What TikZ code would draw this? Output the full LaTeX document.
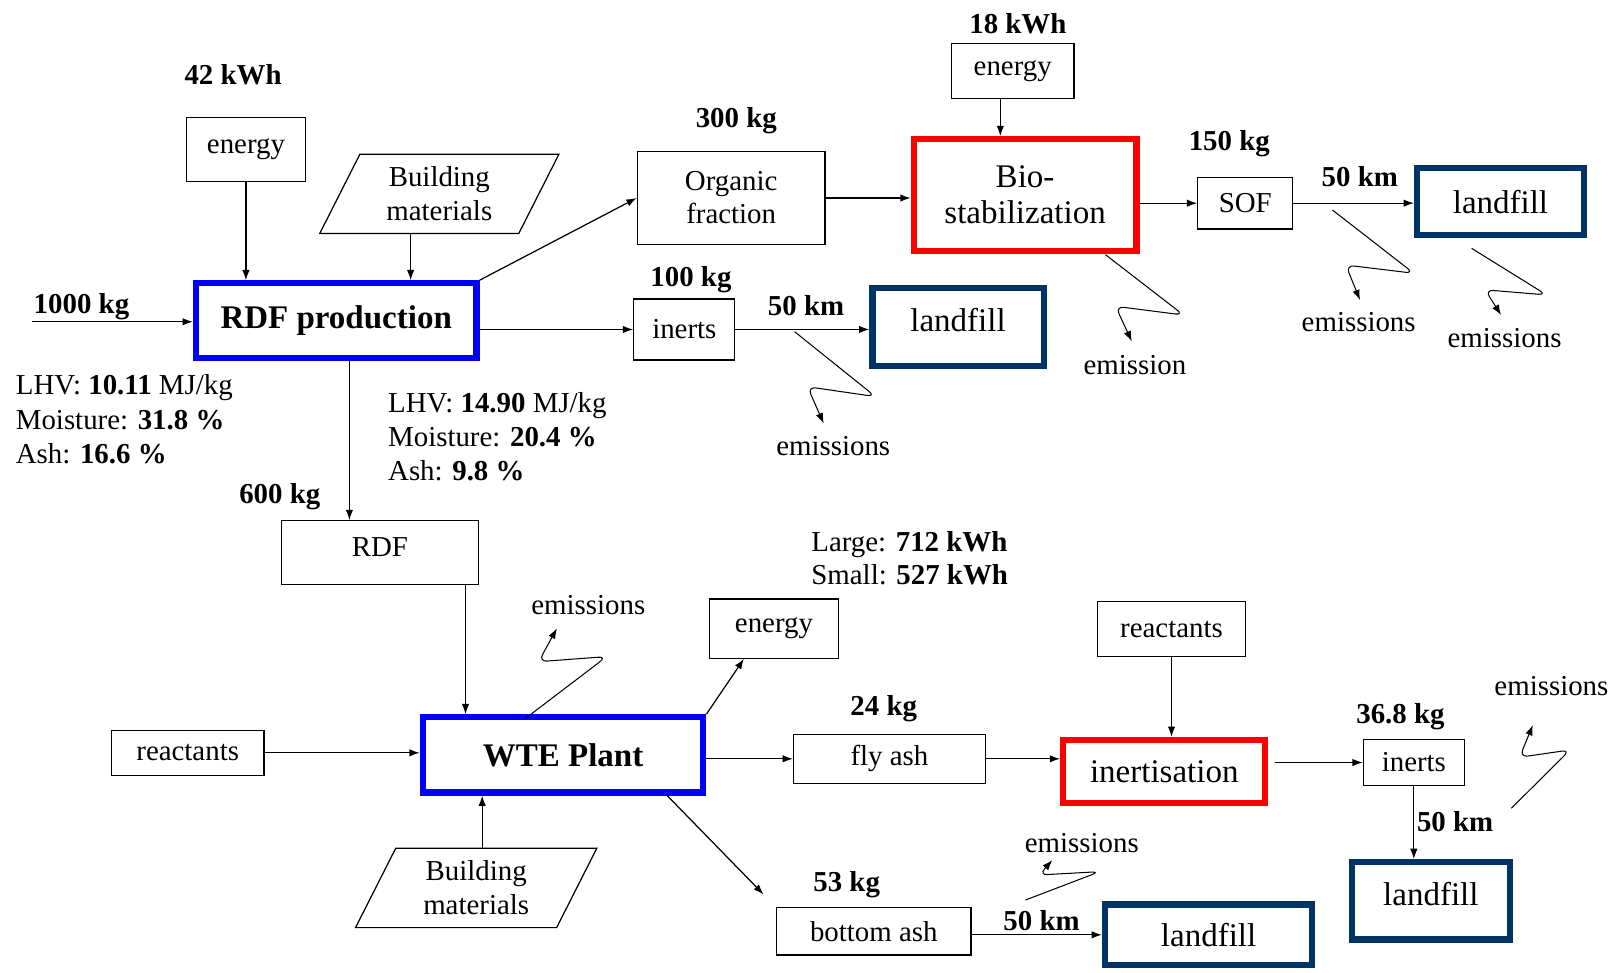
\documentclass[tikz,border=0pt]{standalone}
\usepackage{fontspec}
\setmainfont{Liberation Serif}
\usetikzlibrary{arrows.meta,shapes.geometric}
\definecolor{lfnavy}{RGB}{0,51,102}
\tikzset{
  box/.style={draw, line width=0.6pt, inner sep=0pt, align=center, font=\fontsize{14}{16}\selectfont},
  bluebox/.style={draw=blue, line width=3pt, inner sep=0pt, font=\fontsize{16}{19}\selectfont\bfseries},
  redbox/.style={draw=red, line width=3pt, inner sep=0pt, align=center, font=\fontsize{16}{17.5}\selectfont},
  fillbox/.style={draw=lfnavy, line width=3pt, inner sep=0pt, font=\fontsize{16}{19}\selectfont},
  matbox/.style={draw, line width=0.6pt, trapezium, trapezium left angle=53.5, trapezium right angle=126.5,
    trapezium stretches body, inner sep=0pt, align=center, font=\fontsize{14}{16.5}\selectfont},
  qty/.style={font=\fontsize{14}{16}\selectfont\bfseries},
  txt/.style={font=\fontsize{14}{16.5}\selectfont, align=left, inner sep=0pt},
  arr/.style={-{Latex[length=5pt,width=3.6pt]}, line width=0.6pt},
  squig/.style={arr, line width=0.5pt, rounded corners=4pt},
}
\begin{document}
\begin{tikzpicture}[x=0.5pt,y=-0.5pt]
\useasboundingbox (0,0) rectangle (1568,943);

% RDF production line
\node[bluebox, minimum width=136pt, minimum height=36.25pt] (rdfp) at (326,311) {RDF production};
\node[box, minimum width=57.5pt, minimum height=31pt] (en1) at (238.5,145) {energy};
\node[qty] (kwh1) at (226,72) {42 kWh};
\node[matbox, minimum width=116pt, minimum height=38.5pt] (bm1) at (426,188) {Building\\materials};
\coordinate (src) at (31,312);
\node[qty] (kg1000) at (79,297) {1000 kg};
\node[txt, anchor=west] (lhvin) at (15,406.5) {LHV: \textbf{10.11} MJ/kg\\Moisture: \textbf{31.8 \%}\\Ash: \textbf{16.6 \%}};
\node[txt, anchor=west] (lhvout) at (376,423.5) {LHV: \textbf{14.90} MJ/kg\\Moisture: \textbf{20.4 \%}\\Ash: \textbf{9.8 \%}};

\draw[arr] (src) -- (src -| rdfp.west);
\draw[arr] (en1.south) -- (en1.south |- rdfp.north);
\coordinate (bm1b) at ([xshift=-4pt]bm1.bottom side);
\draw[arr] (bm1b) -- (bm1b |- rdfp.north);

% organic fraction
\node[box, minimum width=91pt, minimum height=45pt] (org) at (709,192) {Organic\\fraction};
\node[qty] (kg300) at (714,117) {300 kg};
\node[redbox, minimum width=108pt, minimum height=54pt] (bio) at (994,189) {Bio-\\stabilization};
\node[box, minimum width=59.5pt, minimum height=26.5pt] (en2) at (982,68.7) {energy};
\node[qty] (kwh18) at (987,22.6) {18 kWh};
\node[box, minimum width=46pt, minimum height=25pt] (sof) at (1207.5,197) {SOF};
\node[qty] (kg150) at (1192,139) {150 kg};
\node[fillbox, minimum width=81pt, minimum height=32.5pt] (lf1) at (1455,195.5) {landfill};
\node[qty] (kmA) at (1318.6,171.4) {50 km};

\draw[arr] (rdfp.north east) -- (org.west);
\draw[arr] (org.east) -- (org.east -| bio.west);
\coordinate (en2d) at ([xshift=-6pt]en2.south);
\draw[arr] (en2d) -- (en2d |- bio.north);
\draw[arr] (bio.east |- sof.west) -- (sof.west);
\draw[arr] (sof.east) -- (sof.east -| lf1.west);

% inerts
\node[box, minimum width=49pt, minimum height=29.5pt] (inr1) at (663.6,319.5) {inerts};
\node[qty] (kg100) at (670,271.5) {100 kg};
\node[fillbox, minimum width=83pt, minimum height=38pt, text depth=7pt] (lf2) at (929,317) {landfill};
\node[qty] (kmB) at (781.6,296) {50 km};

\draw[arr] (rdfp.east |- inr1.west) -- (inr1.west);
\draw[arr] (inr1.east) -- (inr1.east -| lf2.west);

% emissions, top
\node[txt] (em1) at (808,433) {emissions};
\node[txt] (em2) at (1100.6,354) {emission};
\node[txt] (em3) at (1317.5,312) {emissions};
\node[txt] (em4) at (1459,328) {emissions};
\coordinate (s1) at (770.5,321.6);
\coordinate (s2) at (1072,247);
\coordinate (s3) at (1292,203.6);
\coordinate (s4) at (1427,240.8);
\draw[squig] (s1) -- ++(78.5,63) -- ++(-66,-9.6) -- ++(15.7,35.6);
\draw[squig] (s2) -- ++(75.7,58.5) -- ++(-66,-8.5) -- ++(15.8,34);
\draw[squig] (s3) -- ++(79,61.4) -- ++(-66,-8) -- ++(13.8,34);
\draw[squig] (s4) -- ++(72.8,45.2) -- ++(-59.8,-5) -- ++(15.6,24.5);

% RDF and WTE plant
\node[box, minimum width=95.5pt, minimum height=31pt, text depth=6pt] (rdf) at (368.4,536) {RDF};
\node[qty] (kg600) at (271.3,481.6) {600 kg};
\node[bluebox, minimum width=136pt, minimum height=36.5pt] (wte) at (546,732) {WTE Plant};
\node[box, minimum width=74pt, minimum height=22pt] (rea1) at (182,730) {reactants};
\node[matbox, minimum width=117pt, minimum height=38.5pt] (bm2) at (461.75,861) {Building\\materials};
\node[box, minimum width=62.5pt, minimum height=28.75pt] (en3) at (750.5,609.5) {energy};
\node[txt, anchor=west, font=\fontsize{14}{16}\selectfont] (elec) at (786.4,541.3) {Large: \textbf{712 kWh}\\Small: \textbf{527 kWh}};

\coordinate (rdfpd) at ([xshift=6.4pt]rdfp.south);
\draw[arr] (rdfpd) -- (rdfpd |- rdf.north);
\coordinate (rdfd) at ([xshift=41.5pt]rdf.south);
\draw[arr] (rdfd) -- (rdfd |- wte.north);
\draw[arr] (rea1.east) -- (rea1.east -| wte.west);
\coordinate (bm2t) at ([xshift=-7pt]bm2.top side);
\draw[arr] (bm2t) -- (bm2t |- wte.south);
\draw[arr] (wte.north east) -- ([xshift=17pt]en3.south west);

% fly ash
\node[box, minimum width=93pt, minimum height=23.75pt] (fly) at (862.5,735.8) {fly ash};
\node[qty] (kg24) at (857,686.8) {24 kg};
\node[redbox, minimum width=98pt, minimum height=30.5pt] (inert) at (1129,748) {inertisation};
\node[box, minimum width=71.7pt, minimum height=26.65pt] (rea2) at (1136,610) {reactants};
\node[box, minimum width=49pt, minimum height=22.4pt] (inr2) at (1371,739.4) {inerts};
\node[qty] (kg368) at (1358,695) {36.8 kg};
\node[fillbox, minimum width=76.5pt, minimum height=37.5pt, text depth=7pt] (lf4) at (1387.5,873.5) {landfill};
\node[qty] (kmD) at (1411,796.7) {50 km};

\draw[arr] (fly.west -| wte.east) -- (fly.west);
\draw[arr] (fly.east) -- (fly.east -| inert.west);
\draw[arr] (rea2.south) -- (rea2.south |- inert.north);
\draw[arr, shorten <=3pt] (inert.east |- inr2.west) -- (inr2.west);
\draw[arr] (inr2.south) -- (inr2.south |- lf4.north);

% bottom ash
\node[box, minimum width=94.3pt, minimum height=23.1pt] (bot) at (847.3,903) {bottom ash};
\node[qty] (kg53) at (821,858) {53 kg};
\node[fillbox, minimum width=100.5pt, minimum height=29.5pt] (lf3) at (1172,906.5) {landfill};
\node[qty] (kmC) at (1010,893) {50 km};

\draw[arr] ([xshift=-19pt]wte.south east) -- ([shift={(-6pt,6pt)}]bot.north west);
\draw[arr] (bot.east |- lf3.west) -- (lf3.west);

% emissions, bottom
\node[txt] (em5) at (570.5,586.6) {emissions};
\node[txt] (em6) at (1504.4,664.8) {emissions};
\node[txt] (em7) at (1049,817.7) {emissions};
\coordinate (s5) at (509.7,696.5);
\coordinate (s6) at (1465.5,783.8);
\coordinate (s7) at (994.5,872.7);
\draw[squig] (s5) -- ++(78.6,-59.8) -- ++(-66,4.9) -- ++(17.7,-32.3);
\draw[squig] (s6) -- ++(57,-56.6) -- ++(-49,7.1) -- ++(12.9,-31.3);
\draw[squig] (s7) -- ++(72,-27.5) -- ++(-59,3.3) -- ++(13,-14.5);
\end{tikzpicture}
\end{document}
